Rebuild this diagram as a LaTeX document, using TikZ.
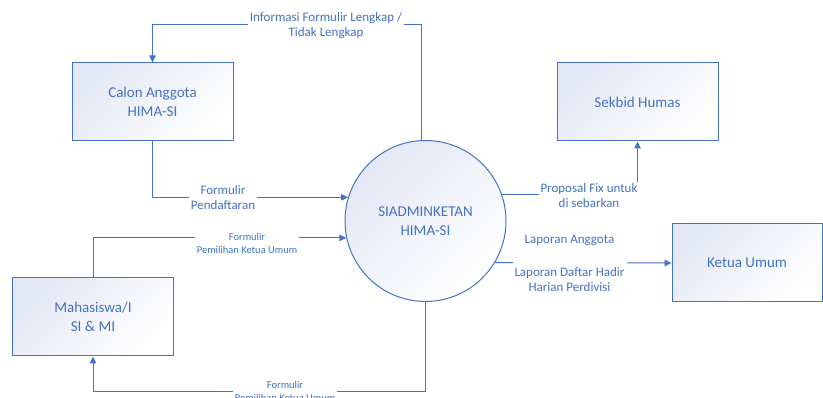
\documentclass[tikz,border=0pt]{standalone}
\usepackage{fontspec}
\setmainfont{Carlito}
\usetikzlibrary{arrows.meta, positioning, calc}
\definecolor{dfdblue}{HTML}{4472C4}
\definecolor{dfdfill}{HTML}{E4E8F5}

\begin{document}
\begin{tikzpicture}[
    x=1pt, y=-1pt,
    ent/.style={
        rectangle, draw=dfdblue, line width=1pt,
        top color=dfdfill, bottom color=white, shading angle=45,
        minimum width=161pt, minimum height=78pt, inner sep=0pt,
        text=dfdblue, align=center, font=\fontsize{15}{18.5}\selectfont},
    bubble/.style={
        circle, draw=dfdblue, line width=1pt,
        top color=dfdfill, bottom color=white, shading angle=45,
        minimum size=161pt, inner sep=0pt,
        text=dfdblue, align=center, font=\fontsize{15}{18.5}\selectfont},
    lbl/.style={
        fill=white, inner xsep=2pt, inner ysep=1pt,
        text=dfdblue, align=center, font=\fontsize{13}{15}\selectfont},
    lblsmall/.style={lbl, font=\fontsize{10.5}{13}\selectfont},
    flow/.style={-{Triangle[length=7pt, width=6.5pt]}, line width=1pt, draw=dfdblue}]

\useasboundingbox (0,0) rectangle (823,398);

\node[bubble]                       (sistem) at (425.5,221) {SIADMINKETAN\\HIMA-SI};
\node[ent]                          (calon)  at (152.5,102) {Calon Anggota\\HIMA-SI};
\node[ent]                          (mhs)    at (93,317)    {Mahasiswa/I\\SI \& MI};
\node[ent]                          (humas)  at (637.5,102) {Sekbid Humas};
\node[ent, minimum width=150pt]     (ketua)  at (747,263)   {Ketua Umum};

% Data flows
\draw[flow] ([xshift=-4.5pt]sistem.north) -- ++(0,-115.5) -| (calon.north);
\draw[flow] (calon.south) |- (sistem.163);
\draw[flow] (mhs.north)   |- (sistem.192);
\draw[flow] (sistem.south) -- ++(0,89.5) -| (mhs.south);
\draw[flow] (sistem.19)   -| (humas.south);
\draw[flow] (sistem.-31.45) -- (ketua.west);

% Flow labels
\node[lbl]      (lInfo)     at (326,25.5)   {Informasi Formulir Lengkap /\\Tidak Lengkap};
\node[lbl]      (lDaftar)   at (223,198)    {Formulir\\Pendaftaran};
\node[lblsmall] (lPilih)    at (247,243.5)  {Formulir\\Pemilihan Ketua Umum};
\node[lblsmall] (lPilihB)   at (285,391)    {Formulir\\Pemilihan Ketua Umum};
\node[lbl]      (lProposal) at (589,195.5)  {Proposal Fix untuk\\di sebarkan};
\node[lbl]      (lLaporan)  at (569.5,263.5){Laporan Anggota\\[18pt]Laporan Daftar Hadir\\Harian Perdivisi};

\end{tikzpicture}
\end{document}
